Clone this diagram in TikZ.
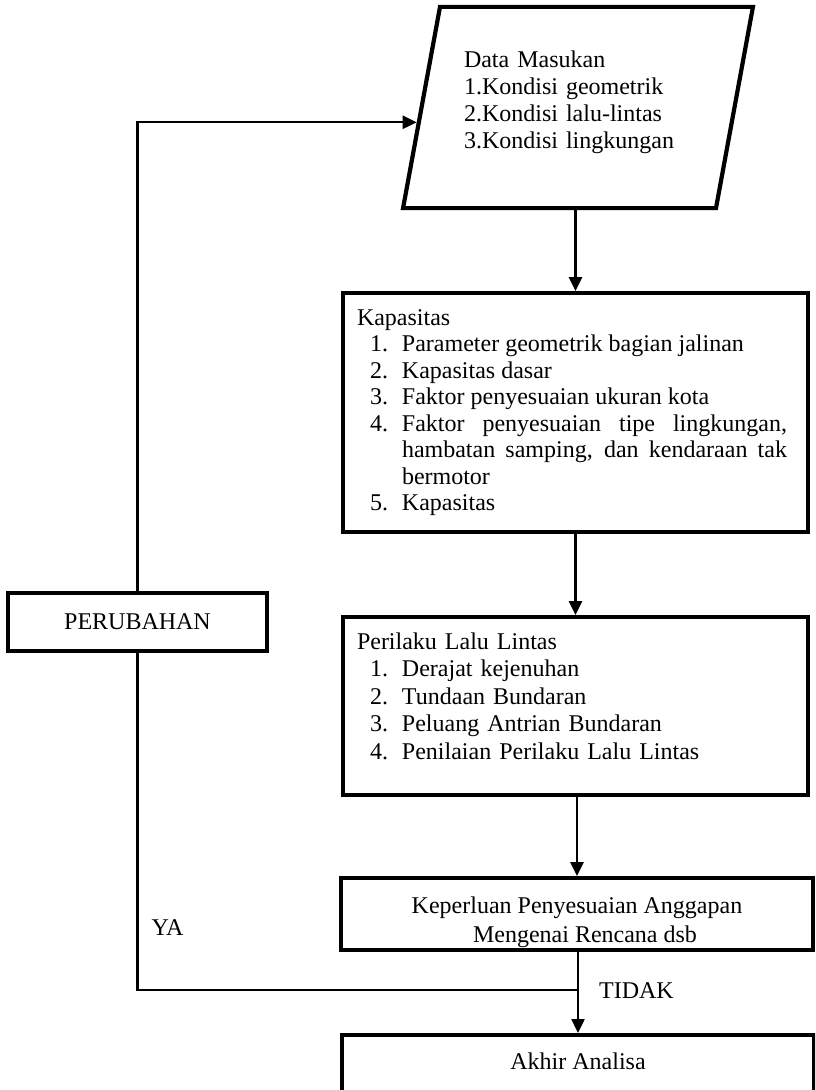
\documentclass[tikz,border=0pt]{standalone}
\usepackage{fontspec}
\setmainfont{Liberation Serif}
\usetikzlibrary{shapes.geometric,arrows.meta,calc}
\hyphenpenalty=10000
\exhyphenpenalty=10000
\newcommand{\butir}[1]{\par\hangindent=22.5pt\hangafter=1\makebox[22.5pt][l]{\hspace{6.5pt}#1}\ignorespaces}

\begin{document}
\begin{tikzpicture}[x=0.5pt,y=-0.5pt,>={Triangle[length=7pt,width=6.5pt]},
        kotak/.style={draw,rectangle,line width=1.9pt,inner sep=0pt},
        teks/.style={font=\fontsize{12}{13.5}\selectfont},
        garis/.style={line width=1.2pt}]
        \clip (0,0) rectangle (815,1090);
        % data masukan
        \node[trapezium,trapezium left angle=79.6,trapezium right angle=100.4,draw,line width=2.1pt,
              teks,text width=114pt,inner xsep=12pt,inner ysep=21.9pt,align=left]
              (data) at (578,107.5) {Data Masukan\\1.Kondisi geometrik\\2.Kondisi lalu-lintas\\3.Kondisi lingkungan\rule[-8pt]{0pt}{0pt}};
        % kapasitas
        \node[kotak,text width=218.5pt,inner xsep=7pt,minimum height=119.5pt,align=justify,
              font=\fontsize{12}{13.25}\selectfont] (kap) at (575.5,412.5) {\rightskip=3.5pt Kapasitas
              \butir{1.}Parameter geometrik bagian jalinan
              \butir{2.}Kapasitas dasar
              \butir{3.}Faktor penyesuaian ukuran kota
              \butir{4.}Faktor penyesuaian tipe lingkungan, hambatan samping, dan kendaraan tak bermotor
              \butir{5.}Kapasitas};
        % perilaku lalu lintas
        \node[kotak,text width=218.5pt,inner xsep=7pt,minimum height=89pt,align=left,
              font=\fontsize{12}{13.75}\selectfont] (per) at (575.5,706) {Perilaku Lalu Lintas
              \butir{1.}Derajat kejenuhan
              \butir{2.}Tundaan Bundaran
              \butir{3.}Peluang Antrian Bundaran
              \butir{4.}Penilaian Perilaku Lalu Lintas\rule[-10pt]{0pt}{0pt}};
        \node[kotak,teks,minimum width=236pt,minimum height=36pt,align=center] (kep) at (577,914)
              {\rule{0pt}{16.5pt}Keperluan Penyesuaian Anggapan\\[1pt]\hspace{8pt}Mengenai Rencana dsb};
        \node[kotak,teks,anchor=north,minimum width=236pt,inner ysep=9pt,text depth=5pt] (akh) at (578,1033) {Akhir Analisa};
        \node[kotak,teks,line width=1.7pt,minimum width=129.5pt,minimum height=29pt] (pe) at (137.5,622) {PERUBAHAN};
        \node[teks] (ya) at (167.5,928) {YA};
        \node[teks] (tidak) at (636.5,991) {TIDAK};
        \coordinate (masuk) at ($(data.bottom left corner)!0.428!(data.top left corner)$);
        \coordinate (cabang) at (578,990);
        % panah
        \draw[garis,->] (kap.north |- data.south) -- (kap.north);
        \draw[garis,->] (kap.south) -- (per.north);
        \draw[garis,->] (kep.north |- per.south) -- (kep.north);
        \draw[garis,->] (akh.north |- kep.south) -- (akh.north);
        \draw[garis] (pe.south) |- (cabang);
        \draw[garis,->] (pe.north) |- (masuk);
\end{tikzpicture}
\end{document}
